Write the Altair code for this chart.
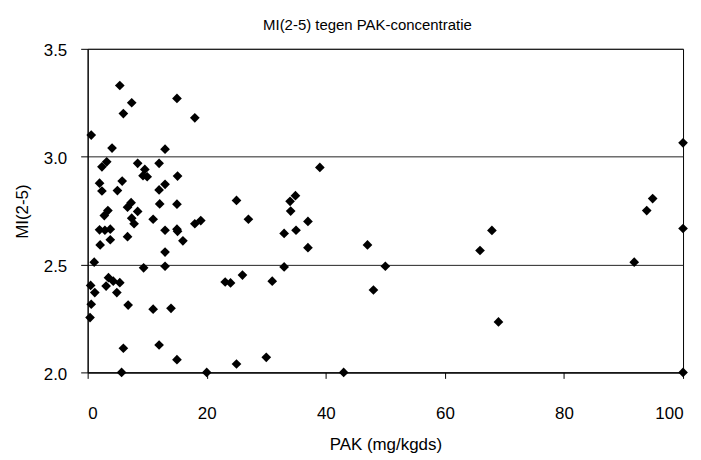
import altair as alt
import pandas as pd

# PAK (mg/kgds) and MI(2-5)
pak = [
    0.6, 4.1, 5.4, 6.0, 7.4, 13.0, 15.0, 18.0,
    3.2, 2.4, 8.4, 9.6, 12.0, 9.3, 10.0, 15.1, 39.0,
    2.0, 2.4, 5.8, 5.0, 13.0, 12.0, 25.0, 34.9, 34.0, 34.1,
    7.3, 6.7, 12.1, 15.0, 3.4, 2.8, 8.4, 7.4, 7.8, 11.0,
    18.0, 19.0, 27.0, 37.0, 33.0, 35.0, 37.0,
    2.0, 2.9, 3.8, 6.7, 13.0, 15.0, 15.1, 3.8, 16.0, 2.1, 13.0,
    47.0, 67.9, 65.9, 94.9, 93.9, 100.0, 100.0,
    1.1, 9.4, 13.0, 33.0, 50.0, 91.8,
    3.5, 4.3, 5.4, 3.1, 0.5, 1.2, 4.9,
    23.1, 24.0, 26.0, 31.0, 48.0, 69.0,
    0.6, 6.8, 11.0, 14.0, 0.4,
    6.0, 12.0, 15.0, 30.0, 25.0,
    5.7, 20.0, 43.0, 100.0,
]
mi = [
    3.10, 3.04, 3.33, 3.20, 3.25, 3.035, 3.27, 3.18,
    2.976, 2.953, 2.969, 2.941, 2.969, 2.912, 2.907, 2.91, 2.95,
    2.877, 2.841, 2.887, 2.843, 2.872, 2.846, 2.797, 2.819, 2.793, 2.748,
    2.787, 2.766, 2.781, 2.780, 2.750, 2.727, 2.746, 2.715, 2.689, 2.710,
    2.689, 2.704, 2.71, 2.70, 2.644, 2.659, 2.578,
    2.661, 2.659, 2.664, 2.629, 2.659, 2.664, 2.654, 2.615, 2.610, 2.591, 2.558,
    2.591, 2.658, 2.565, 2.806, 2.750, 3.064, 2.667,
    2.511, 2.485, 2.492, 2.489, 2.492, 2.511,
    2.439, 2.423, 2.416, 2.400, 2.403, 2.370, 2.370,
    2.419, 2.415, 2.451, 2.423, 2.382, 2.234,
    2.316, 2.312, 2.293, 2.297, 2.254,
    2.112, 2.127, 2.059, 2.070, 2.039,
    2.0, 2.0, 2.0, 2.0,
]

df = pd.DataFrame({"PAK": pak, "MI": mi})

x_ticks = [0, 20, 40, 60, 80, 100]
y_ticks = [2.0, 2.5, 3.0, 3.5]

chart = (
    alt.Chart(df)
    .mark_point(shape="diamond", filled=True, color="black", size=95, opacity=1)
    .encode(
        x=alt.X(
            "PAK:Q",
            scale=alt.Scale(domain=[0, 100], nice=False, zero=False),
            axis=alt.Axis(
                values=x_ticks,
                title="PAK (mg/kgds)",
                grid=False,
                tickSize=6,
                labelPadding=27,
                titleY=72,
                titleBaseline="middle",
            ),
        ),
        y=alt.Y(
            "MI:Q",
            scale=alt.Scale(domain=[2.0, 3.5], nice=False, zero=False),
            axis=alt.Axis(
                values=y_ticks,
                format=".1f",
                title="MI(2-5)",
                grid=True,
                tickSize=7,
                labelPadding=14,
                labelOffset=2,
                titleX=-65,
                titleY=163,
                titleBaseline="middle",
                titleAlign="center",
            ),
        ),
    )
    .properties(
        width=598,
        height=325,
        autosize=alt.AutoSizeParams(type="none"),
        padding={"left": 80, "top": 40, "right": 10, "bottom": 90},
        background="white",
        title=alt.TitleParams(
            "MI(2-5) tegen PAK-concentratie",
            fontSize=15,
            fontWeight="normal",
            font="Liberation Sans",
            color="black",
            anchor="middle",
            offset=9,
            dx=-18,
        ),
    )
    .configure_view(stroke="black", strokeWidth=1)
    .configure_axis(
        labelFont="Liberation Sans",
        titleFont="Liberation Sans",
        labelFontSize=17,
        titleFontSize=17,
        titleFontWeight="normal",
        labelColor="black",
        titleColor="black",
        domainColor="black",
        tickColor="black",
        gridColor="#222222",
        gridWidth=1,
        domainWidth=1,
        tickWidth=1,
    )
)

chart.save("out.html", embed_options={"renderer": "svg", "actions": False})
